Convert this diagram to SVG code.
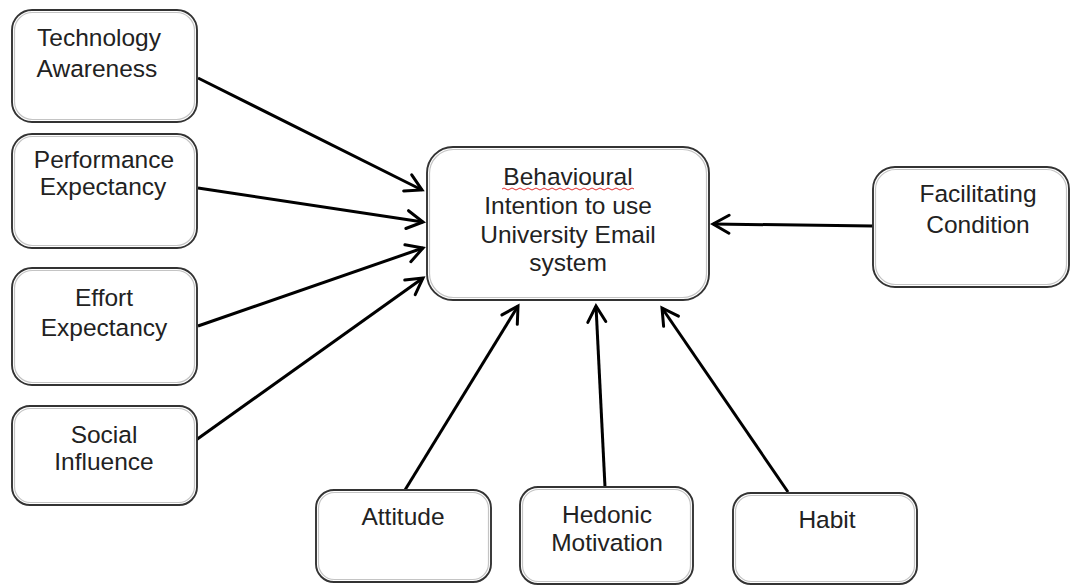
<svg xmlns="http://www.w3.org/2000/svg" width="1071" height="586" viewBox="0 0 1071 586">
<style>
.box{fill:#fff;stroke:#333;stroke-width:1.9}
.inner{fill:none;stroke:#c4c4c4;stroke-width:1.2}
.t{font-family:"Liberation Sans",Arial,sans-serif;font-size:24.5px;fill:#222;text-anchor:middle}
.c{stroke:#000;stroke-width:3;fill:none;marker-end:url(#ah)}
</style>
<defs>
<marker id="ah" markerUnits="userSpaceOnUse" markerWidth="22" markerHeight="22" viewBox="0 0 22 22" refX="19" refY="11" orient="auto">
<path d="M3,2 L19,11 L3,20" fill="none" stroke="#000" stroke-width="3" stroke-linecap="round" stroke-linejoin="miter"/>
</marker>
</defs>
<g id="connectors">
<line class="c" x1="198" y1="78" x2="422" y2="190"/>
<line class="c" x1="198" y1="188" x2="423" y2="222"/>
<line class="c" x1="198" y1="326" x2="423" y2="248"/>
<line class="c" x1="196" y1="440" x2="423" y2="278"/>
<line class="c" x1="405" y1="490" x2="518" y2="306"/>
<line class="c" x1="605" y1="487" x2="596" y2="306"/>
<line class="c" x1="788" y1="492" x2="662" y2="308"/>
<line class="c" x1="873" y1="226" x2="713" y2="224"/>
</g>
<g id="n-ta">
<rect class="box" x="12" y="10" width="185" height="112" rx="20"/>
<rect class="inner" x="14.5" y="12.5" width="180" height="107" rx="18"/>
<text class="t" x="99" y="46">Technology</text>
<text class="t" x="97" y="77">Awareness</text>
</g>
<g id="n-pe">
<rect class="box" x="12" y="134" width="185" height="114" rx="20"/>
<rect class="inner" x="14.5" y="136.5" width="180" height="109" rx="18"/>
<text class="t" x="104" y="168">Performance</text>
<text class="t" x="103" y="195">Expectancy</text>
</g>
<g id="n-ee">
<rect class="box" x="12" y="268" width="185" height="117" rx="20"/>
<rect class="inner" x="14.5" y="270.5" width="180" height="112" rx="18"/>
<text class="t" x="104" y="306">Effort</text>
<text class="t" x="104" y="336">Expectancy</text>
</g>
<g id="n-si">
<rect class="box" x="12" y="406" width="185" height="99" rx="18"/>
<rect class="inner" x="14.5" y="408.5" width="180" height="94" rx="16"/>
<text class="t" x="104" y="443">Social</text>
<text class="t" x="104" y="470">Influence</text>
</g>
<g id="n-bi">
<rect class="box" x="427" y="147" width="282" height="153" rx="26"/>
<rect class="inner" x="429.5" y="149.5" width="277" height="148" rx="24"/>
<text class="t" x="568" y="185">Behavioural</text>
<path d="M502,189 q2,-2 4,0 t4,0 t4,0 t4,0 t4,0 t4,0 t4,0 t4,0 t4,0 t4,0 t4,0 t4,0 t4,0 t4,0 t4,0 t4,0 t4,0 t4,0 t4,0 t4,0 t4,0 t4,0 t4,0 t4,0 t4,0 t4,0 t4,0 t4,0 t4,0 t4,0 t4,0 t4,0 t4,0" fill="none" stroke="#e03030" stroke-width="1"/>
<text class="t" x="568" y="214">Intention to use</text>
<text class="t" x="568" y="243">University Email</text>
<text class="t" x="568" y="271">system</text>
</g>
<g id="n-fc">
<rect class="box" x="873" y="167" width="196" height="120" rx="22"/>
<rect class="inner" x="875.5" y="169.5" width="191" height="115" rx="20"/>
<text class="t" x="978" y="202">Facilitating</text>
<text class="t" x="978" y="233">Condition</text>
</g>
<g id="n-at">
<rect class="box" x="316" y="490" width="175" height="92" rx="18"/>
<rect class="inner" x="318.5" y="492.5" width="170" height="87" rx="16"/>
<text class="t" x="403" y="525">Attitude</text>
</g>
<g id="n-hm">
<rect class="box" x="520" y="487" width="173" height="97" rx="18"/>
<rect class="inner" x="522.5" y="489.5" width="168" height="92" rx="16"/>
<text class="t" x="607" y="523">Hedonic</text>
<text class="t" x="607" y="551">Motivation</text>
</g>
<g id="n-hb">
<rect class="box" x="733" y="493" width="184" height="91" rx="18"/>
<rect class="inner" x="735.5" y="495.5" width="179" height="86" rx="16"/>
<text class="t" x="827" y="528">Habit</text>
</g>
</svg>
